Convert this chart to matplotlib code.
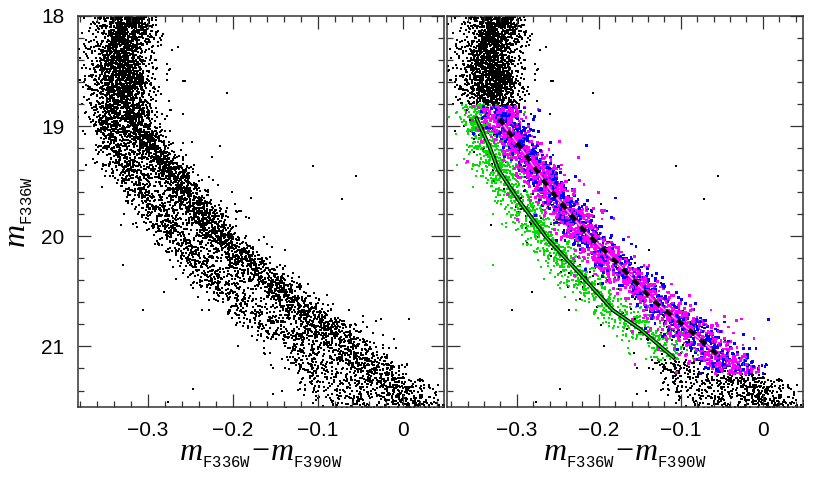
import numpy as np
import matplotlib.pyplot as plt
from matplotlib.ticker import MultipleLocator

plt.rcParams['font.family'] = ['Liberation Sans', 'DejaVu Sans']
plt.rcParams['mathtext.fontset'] = 'custom'
plt.rcParams['mathtext.it'] = 'Liberation Serif:italic'
plt.rcParams['mathtext.rm'] = 'Liberation Serif'
plt.rcParams['mathtext.tt'] = 'Liberation Mono'

# ridge lines of the two sequences used to lay the stars
ridge_mag = [18.0, 18.5, 19.0, 19.5, 20.0, 20.5, 21.0, 21.6]
ridge_red = [-0.320, -0.326, -0.315, -0.267, -0.219, -0.145, -0.066, 0.022]
ridge_grn = [-0.334, -0.344, -0.347, -0.315, -0.267, -0.206, -0.127, -0.045]
ridge_sig = [0.015, 0.015, 0.013, 0.013, 0.014, 0.016, 0.019, 0.024]

# number of stars per magnitude bin
bin_edges = [18.0, 18.5, 19.0, 19.5, 20.0, 20.5, 21.0, 21.6]
bin_counts = [1150, 1150, 1100, 1000, 950, 900, 1050]
frac_green = 0.36

# isolated field stars
out_col = [-0.256, -0.207, -0.259, -0.106, -0.055, -0.072, -0.332, -0.139, -0.281,
           -0.306, -0.247, -0.153, -0.142, -0.276, -0.282, -0.274, -0.197, -0.236]
out_mag = [18.59, 18.70, 18.89, 19.36, 19.45, 19.66, 19.90, 20.12, 20.51,
           20.67, 21.39, 21.43, 21.40, 21.50, 18.16, 18.48, 19.71, 20.67]

# fiducial lines in the right panel
fid_red_mag = [18.93, 19.0, 19.23, 19.57, 19.94, 20.24, 20.58, 20.83, 21.07]
fid_red_col = [-0.321, -0.315, -0.292, -0.260, -0.219, -0.178, -0.134, -0.093, -0.056]
fid_grn_mag = [18.93, 19.19, 19.39, 19.69, 20.01, 20.34, 20.67, 20.84, 21.10]
fid_grn_col = [-0.349, -0.333, -0.323, -0.296, -0.264, -0.223, -0.183, -0.150, -0.109]

rng = np.random.default_rng(7)
mag = []; col = []; pop = []
for lo, hi, n in zip(bin_edges[:-1], bin_edges[1:], bin_counts):
    m = rng.uniform(lo, hi, n)
    g = rng.random(n) < frac_green
    c = np.where(g, np.interp(m, ridge_mag, ridge_grn), np.interp(m, ridge_mag, ridge_red))
    s = np.interp(m, ridge_mag, ridge_sig) * np.where(rng.random(n) < 0.05, 2.2, 1.0)
    c = c + rng.normal(0, 1, n) * s
    mag.append(m); col.append(c); pop.append(g)
mag = np.concatenate(mag); col = np.concatenate(col); pop = np.concatenate(pop)
keep = rng.random(mag.size) > 0.08
sub = rng.random(mag.size)

is_grn = pop & keep & (mag > 18.80) & (mag < 21.12)
is_red = ~pop & keep & (mag > 18.82) & (mag < 21.25)
is_blu = is_red & (sub < 0.36)
col = np.where(is_blu, col + 0.004, col)

fig = plt.figure(figsize=(8.3, 4.84), dpi=100)
ax1 = fig.add_axes([0.094, 0.159, 0.441, 0.808])
ax2 = fig.add_axes([0.5386, 0.159, 0.4289, 0.808])

ax1.scatter(col, mag, s=1.3, c='k', marker='s', linewidths=0)
ax1.scatter(out_col, out_mag, s=2.0, c='k', marker='s', linewidths=0)

blk = ~(is_grn | is_red)
ax2.scatter(col[blk], mag[blk], s=1.3, c='k', marker='s', linewidths=0)
ax2.scatter(out_col, out_mag, s=2.0, c='k', marker='s', linewidths=0)
ax2.scatter(col[is_grn], mag[is_grn], s=4.0, c='#00e000', marker='s', linewidths=0)
red_colors = np.where(is_blu[is_red], '#0000ff', '#ff00ff')
ax2.scatter(col[is_red], mag[is_red], s=4.0, c=red_colors, marker='s', linewidths=0)

ax2.plot(fid_grn_col, fid_grn_mag, color='k', lw=2.8)
ax2.plot(fid_grn_col, fid_grn_mag, color='#00ff00', lw=1.0)
ax2.plot(fid_red_col, fid_red_mag, color='#ff00ff', lw=2.4)
ax2.plot(fid_red_col, fid_red_mag, color='white', lw=0.6)
ax2.plot(fid_red_col, fid_red_mag, color='k', lw=3.0, linestyle=(0, (1.8, 1.8)))

ax1.set_xlim(-0.382, 0.048)
ax2.set_xlim(-0.385, 0.049)
xlab = r'$m_{{}_{\mathtt{F336W}}}\!-\!m_{{}_{\mathtt{F390W}}}$'
for ax in (ax1, ax2):
    ax.set_ylim(21.55, 18.0)
    ax.xaxis.set_major_locator(MultipleLocator(0.1))
    ax.xaxis.set_minor_locator(MultipleLocator(0.02))
    ax.yaxis.set_major_locator(MultipleLocator(1))
    ax.yaxis.set_minor_locator(MultipleLocator(0.2))
    ax.tick_params(which='both', direction='in', top=True, right=True, width=0.9, color='#333333')
    ax.tick_params(which='major', length=9.5, labelsize=15, pad=10)
    ax.tick_params(which='minor', length=4.5)
    ax.xaxis.set_major_formatter(plt.FuncFormatter(lambda v, p: '0' if abs(v) < 1e-9 else ('%.1f' % v).replace('-', '\u2212')))
    for sp in ax.spines.values():
        sp.set_linewidth(1.1)
        sp.set_color('#333333')
    ax.set_xlabel(xlab, fontsize=23, labelpad=0)
ax2.tick_params(labelleft=False)
ax1.set_ylabel(r'$m_{{}_{\mathtt{F336W}}}$', fontsize=23, labelpad=4)

fig.savefig('out.png', dpi=100)
